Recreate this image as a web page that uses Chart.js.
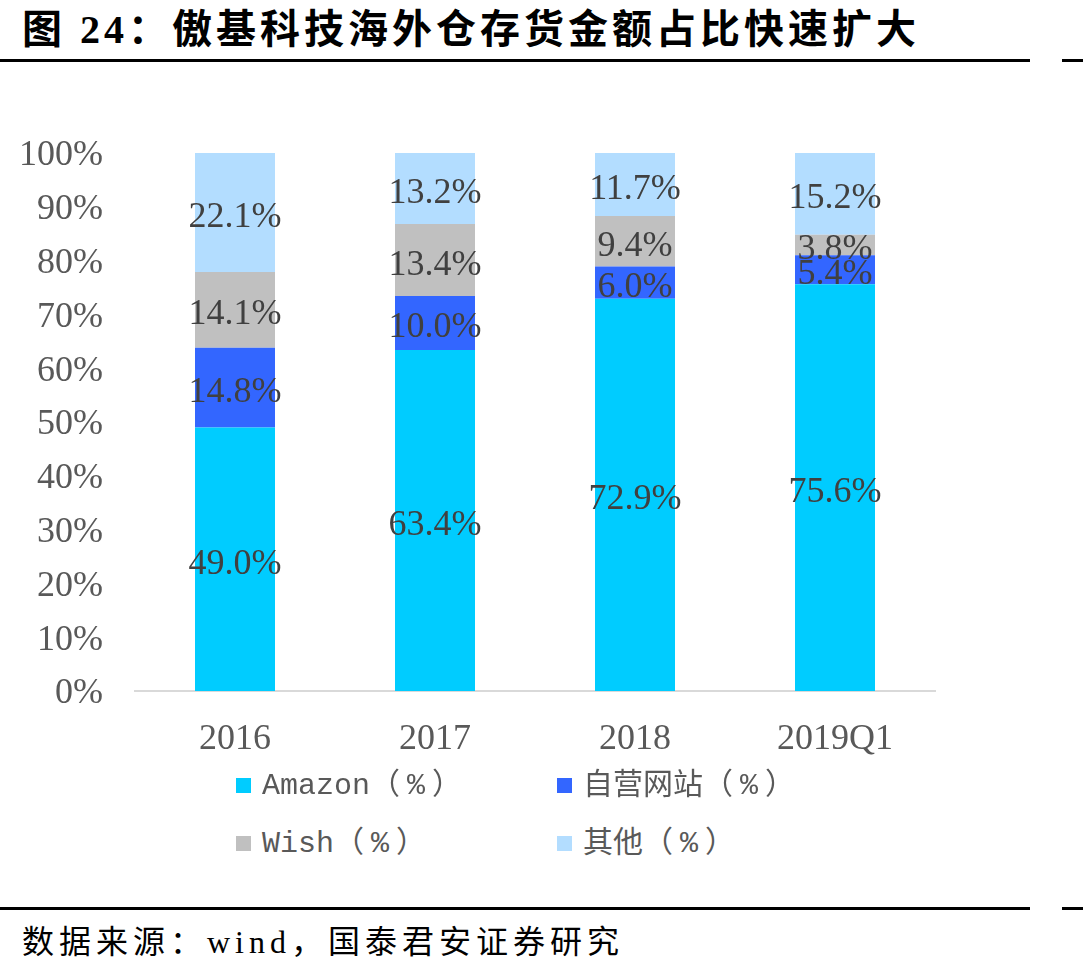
<!DOCTYPE html>
<html>
<head>
<meta charset="utf-8">
<script src="https://cdn.jsdelivr.net/npm/chart.js@4.4.1/dist/chart.umd.min.js"></script>
<style>
  html, body { margin: 0; padding: 0; background: #fff; }
  body { width: 1083px; height: 976px; position: relative; overflow: hidden; }
  #title { position: absolute; left: 22px; top: 6px; font-family: "Liberation Serif", "Noto Sans CJK SC", serif; font-weight: 700; font-size: 40px; letter-spacing: 4px; color: #000; white-space: nowrap; line-height: 48px; }
  .rule { position: absolute; height: 3px; background: #000; }
  #source { position: absolute; left: 22px; top: 922px; font-family: "Liberation Serif", "Noto Sans CJK SC", serif; font-size: 32px; letter-spacing: 5px; color: #000; white-space: nowrap; line-height: 40px; }
  #chartBox { position: absolute; left: 0; top: 0; width: 1083px; height: 780px; }
  .lg { position: absolute; font-family: "Liberation Mono", "Noto Sans CJK SC", monospace; font-size: 30px; color: #595959; white-space: nowrap; line-height: 36px; }
  .lg .pc { letter-spacing: 7px; }
  .sw { position: absolute; width: 15px; height: 15px; }
</style>
</head>
<body>
<div id="title">图 24：傲基科技海外仓存货金额占比快速扩大</div>
<div class="rule" style="left:0;top:59px;width:1030px;"></div>
<div class="rule" style="left:1062px;top:59px;width:21px;"></div>
<div id="chartBox"><canvas id="c"></canvas></div>
<div id="legend"></div>
<div class="rule" style="left:0;top:907px;width:1030px;"></div>
<div class="rule" style="left:1062px;top:907px;width:21px;"></div>
<div id="source">数据来源：wind，国泰君安证券研究</div>
<script>
const categories = ["2016", "2017", "2018", "2019Q1"];
const seriesNames = ["Amazon", "自营网站", "Wish", "其他"];
const seriesUnit = "（%）";
const amazon = [49.0, 63.4, 72.9, 75.6];
const selfSite = [14.8, 10.0, 6.0, 5.4];
const wish = [14.1, 13.4, 9.4, 3.8];
const other = [22.1, 13.2, 11.7, 15.2];
const yTicks = [0, 10, 20, 30, 40, 50, 60, 70, 80, 90, 100];
const colors = ["#00CCFF", "#3366FF", "#C0C0C0", "#B3DDFF"];

const seriesData = [amazon, selfSite, wish, other];

// HTML legend (2 x 2)
const legendPos = [[236, 778], [557, 778], [236, 836], [557, 836]];
const legendEl = document.getElementById('legend');
seriesNames.forEach((n, i) => {
  const [x, y] = legendPos[i];
  const sw = document.createElement('div');
  sw.className = 'sw';
  sw.style.left = x + 'px'; sw.style.top = y + 'px'; sw.style.background = colors[i];
  legendEl.appendChild(sw);
  const t = document.createElement('div');
  t.className = 'lg';
  t.style.left = (x + 26) + 'px'; t.style.top = (y - 10) + 'px';
  const a = document.createElement('span');
  a.textContent = n;
  const b = document.createElement('span');
  b.className = 'pc';
  b.textContent = seriesUnit;
  t.appendChild(a); t.appendChild(b);
  legendEl.appendChild(t);
});

const labelPlugin = {
  id: 'segLabels',
  afterDatasetsDraw(chart) {
    const ctx = chart.ctx;
    ctx.save();
    ctx.font = '36px "Liberation Serif"';
    ctx.fillStyle = '#404040';
    ctx.textAlign = 'center';
    ctx.textBaseline = 'middle';
    chart.data.datasets.forEach((ds, di) => {
      const meta = chart.getDatasetMeta(di);
      meta.data.forEach((el, i) => {
        const v = ds.data[i];
        ctx.fillText(v.toFixed(1) + '%', el.x, (el.y + el.base) / 2 + 5);
      });
    });
    ctx.restore();
  }
};

new Chart(document.getElementById('c'), {
  type: 'bar',
  data: {
    labels: categories,
    datasets: seriesNames.map((n, i) => ({
      label: n + seriesUnit,
      data: seriesData[i],
      backgroundColor: colors[i],
      borderWidth: 0,
      categoryPercentage: 1.0,
      barPercentage: 0.4
    }))
  },
  options: {
    responsive: true,
    maintainAspectRatio: false,
    animation: false,
    layout: { padding: { top: 153, right: 148, left: 0, bottom: 0 } },
    plugins: { legend: { display: false }, tooltip: { enabled: false }, title: { display: false } },
    scales: {
      x: {
        stacked: true,
        grid: { display: false, drawTicks: false },
        border: { display: true, color: '#D9D9D9', width: 2 },
        ticks: { font: { family: 'Liberation Serif', size: 36 }, color: '#595959', padding: 27, maxRotation: 0 },
        afterFit(scale) { scale.height = 89; }
      },
      y: {
        stacked: true,
        min: 0, max: 100,
        afterBuildTicks(scale) { scale.ticks = yTicks.map(v => ({ value: v })); },
        grid: { display: false, drawTicks: false },
        border: { display: false },
        ticks: { font: { family: 'Liberation Serif', size: 36 }, color: '#595959', padding: 32, labelOffset: 3, callback: v => v + '%' },
        afterFit(scale) { scale.width = 135; }
      }
    }
  },
  plugins: [labelPlugin]
});
</script>
</body>
</html>
